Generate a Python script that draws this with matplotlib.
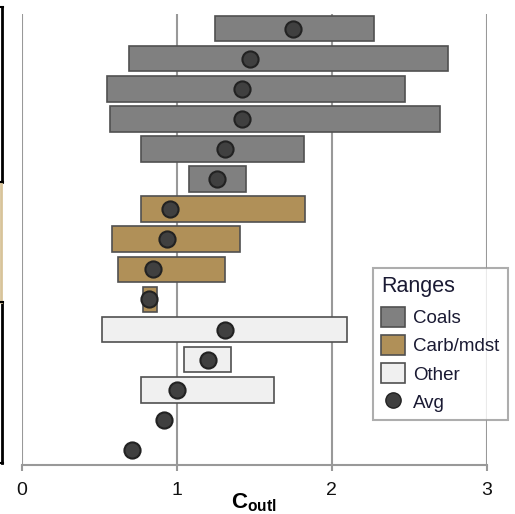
import numpy as np
import matplotlib
matplotlib.use("Agg")
import matplotlib.pyplot as plt
from matplotlib.patches import Patch
from matplotlib.lines import Line2D

plt.rcParams['font.family'] = ['Liberation Sans', 'DejaVu Sans']
plt.rcParams['mathtext.fontset'] = 'custom'
plt.rcParams['mathtext.bf'] = 'Liberation Sans:bold'
plt.rcParams['mathtext.rm'] = 'Liberation Sans'

# ranges (low / high) and averages, top row first
groups = ['Coals'] * 6 + ['Carb/mdst'] * 4 + ['Other'] * 5
range_lo = [1.25, 0.69, 0.55, 0.57, 0.77, 1.08,
            0.77, 0.58, 0.62, 0.78,
            0.52, 1.05, 0.77, np.nan, np.nan]
range_hi = [2.27, 2.75, 2.47, 2.70, 1.82, 1.45,
            1.83, 1.41, 1.31, 0.87,
            2.10, 1.35, 1.63, np.nan, np.nan]
avg = [1.75, 1.47, 1.42, 1.42, 1.31, 1.26,
       0.96, 0.94, 0.85, 0.82,
       1.31, 1.20, 1.00, 0.92, 0.71]
xticks = [0, 1, 2, 3]

colors = {'Coals': '#808080', 'Carb/mdst': '#b09058', 'Other': '#f0f0f0'}
grid_col = '#999999'

fig = plt.figure(figsize=(5.15, 5.14), dpi=100)
ax = fig.add_axes([0.0421, 0.0953, 0.9029, 0.8784])

rows = np.arange(len(avg))
lo = np.array(range_lo)
hi = np.array(range_hi)
has = ~np.isnan(lo)
ax.barh(rows[has], (hi - lo)[has], left=lo[has], height=0.85,
        color=[colors[g] for g, h in zip(groups, has) if h],
        edgecolor='#505050', linewidth=1.2, zorder=2)
ax.scatter(avg, rows, s=135, color='#404040', edgecolor='#222222',
           linewidth=1.5, zorder=3)

for x in xticks:
    ax.axvline(x, color=grid_col, linewidth=1.5, zorder=1)

ax.set_xlim(0, 3)
ax.set_ylim(len(avg) - 0.5, -0.5)
ax.set_xticks(xticks)
ax.set_yticks([])
for s in ['top', 'right', 'left']:
    ax.spines[s].set_visible(False)
ax.spines['bottom'].set_color(grid_col)
ax.spines['bottom'].set_linewidth(1.5)
ax.tick_params(axis='x', colors=grid_col, length=4, width=1.5, pad=8,
               labelsize=14, labelcolor='#111111')
ax.set_xlabel(r'$\mathbf{C}_{\mathbf{outl}}$', fontsize=16, labelpad=-5)

handles = [Patch(facecolor=colors[g], edgecolor='#505050', linewidth=1.2)
           for g in ['Coals', 'Carb/mdst', 'Other']]
handles.append(Line2D([], [], marker='o', linestyle='none', markersize=11,
                      color='#404040', markeredgecolor='#222222'))
leg = ax.legend(handles, ['Coals', 'Carb/mdst', 'Other', 'Avg'],
                title='Ranges', loc='upper left',
                bbox_to_anchor=(373 / 515, 1 - 268 / 514),
                bbox_transform=fig.transFigure, fontsize=13.5,
                title_fontsize=15.5, frameon=True, fancybox=False,
                borderpad=0.45, labelspacing=0.42, handlelength=1.25,
                handleheight=1.25, handletextpad=0.45, borderaxespad=0)
leg._legend_box.align = 'left'
leg._legend_box.sep = 7
leg.get_frame().set_edgecolor(grid_col)
leg.get_frame().set_linewidth(1.5)
for t in leg.get_texts():
    t.set_color('#1a1a33')
leg.get_title().set_color('#1a1a33')

# edge of the neighbouring panel, cut off at the left border
def fy(p):
    return 1 - p / 514

fig.add_artist(Line2D([1.5 / 515, 1.5 / 515], [fy(7), fy(182)],
                      color='black', linewidth=2))
fig.add_artist(Line2D([1.5 / 515, 1.5 / 515], [fy(302), fy(463)],
                      color='black', linewidth=2))
fig.add_artist(Line2D([0.5 / 515, 0.5 / 515], [fy(182), fy(302)],
                      color='#d8c49a', linewidth=2))
for p in [7, 182, 302, 463]:
    fig.add_artist(Line2D([0, 3 / 515], [fy(p), fy(p)],
                          color='black', linewidth=1.5))

fig.savefig('out.png', dpi=100)
